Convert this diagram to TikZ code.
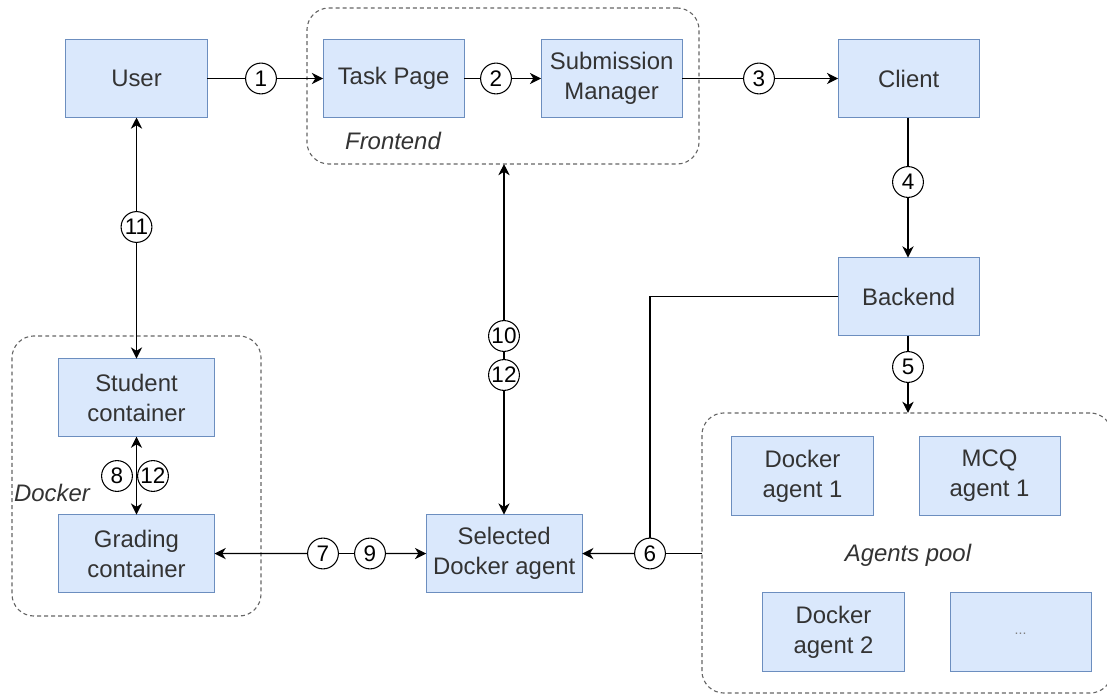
\documentclass[tikz,border=0pt]{standalone}
\usepackage{fontspec}
\setmainfont{Liberation Sans}
\usepackage{xcolor}
\usepackage{tikz}
\usetikzlibrary{arrows.meta, positioning, calc}

\definecolor{boxfill}{HTML}{DAE8FC}
\definecolor{boxline}{HTML}{6C8EBF}
\definecolor{grpline}{HTML}{666666}

\begin{document}
\begin{tikzpicture}[
        x=0.025cm, y=-0.025cm,
        block/.style={draw=boxline, fill=boxfill, line width=0.7pt, rectangle, minimum width=3.525cm, minimum height=1.95cm, align=center, text=black!80, inner sep=1pt, outer sep=0pt},
        wide/.style={block, minimum width=3.9cm},
        num/.style={draw, circle, minimum size=0.77cm, inner sep=0pt, line width=0.75pt, font=\fontsize{16}{16}\selectfont},
        group/.style={draw=grpline, dash pattern=on 2.8pt off 2.2pt, rounded corners=0.55cm, line width=0.8pt, rectangle, outer sep=0pt},
        grouplabel/.style={font=\fontsize{17}{20}\selectfont\itshape, text=black!80},
        conn/.style={line width=0.9pt},
        >={Stealth[length=8pt, width=8pt, inset=2.5pt]},
        font=\fontsize{17}{21.3}\selectfont,
    ]
        \useasboundingbox (0,0) rectangle (1107,695);

        \node[group, minimum width=9.8cm, minimum height=3.9cm]   (frontend) at (503,86)    {};
        \node[group, minimum width=6.225cm, minimum height=7cm]   (docker)   at (136.5,476) {};
        \node[group, minimum width=10.25cm, minimum height=7cm]   (pool)     at (907,553)   {};

        \node[block] (user) at (136.5,78.5)           {User};
        \node[block, right=2.9cm of user]    (task)   {Task Page};
        \node[block, right=1.925cm of task]  (sub)    {Submission\\Manager};
        \node[block, right=3.9cm of sub]     (client) {Client};
        \node[block, below=3.5cm of client]  (backend){Backend};
        \node[wide,  below=6.025cm of user]  (student){Student\\container};
        \node[wide,  below=1.95cm of student](grading){Grading\\container};
        \node[wide,  right=5.29cm of grading](sel)    {Selected\\Docker agent};

        \node[block] (da1) at (802.5,476)             {Docker\\agent 1};
        \node[block, right=1.15cm of da1]    (mcq)    {MCQ\\agent 1};
        \node[block] (da2) at (833.5,632)             {Docker\\agent 2};
        \node[block, right=1.15cm of da2]    (more)   {\fontsize{10}{10}\selectfont\color{black!50}\raisebox{-4pt}{...}};

        \node[grouplabel] (frontlbl)  at (393,141) {Frontend};
        \node[grouplabel] (dockerlbl) at (52,493)  {Docker};
        \node[grouplabel] (poollbl)   at (908,555) {Agents pool};

        \node[num] (c1)  at (261,78.5)   {1};
        \node[num] (c2)  at (496,78.5)   {2};
        \node[num] (c3)  at (759,78.5)   {3};
        \node[num] (c4)  at (908,182)    {4};
        \node[num] (c5)  at (908,367)    {5};
        \node[num] (c6)  at (650,553.5)  {6};
        \node[num] (c7)  at (323,553.5)  {7};
        \node[num] (c9)  at (370,553.5)  {9};
        \node[num] (c8)  at (117,476)    {8};
        \node[num] (c12a) at (153,476)   {12};
        \node[num] (c10) at (504,336)    {10};
        \node[num] (c12b) at (504,375)   {12};
        \node[num] (c11) at (136.5,227)  {11};

        \draw[conn]      (user) -- (c1);
        \draw[conn, ->]  (c1) -- (task);
        \draw[conn]      (task) -- (c2);
        \draw[conn, ->]  (c2) -- (sub);
        \draw[conn]      (sub) -- (c3);
        \draw[conn, ->]  (c3) -- (client);
        \draw[conn]      (c4 |- client.south) -- (c4);
        \draw[conn, ->]  (c4) -- (c4 |- backend.north);
        \draw[conn]      (c5 |- backend.south) -- (c5);
        \draw[conn, ->]  (c5) -- (c5 |- pool.north);
        \draw[conn]      (backend.west) -| (c6);
        \draw[conn]      (pool.west |- c6) -- (c6);
        \draw[conn, ->]  (c6) -- (sel);
        \draw[conn, <-]  (grading) -- (c7);
        \draw[conn]      (c7) -- (c9);
        \draw[conn, ->]  (c9) -- (sel);
        \draw[conn, ->]  (c12b) -- (c12b |- sel.north);
        \draw[conn]      (c10) -- (c12b);
        \draw[conn, ->]  (c10) -- (c10 |- frontend.south);
        \draw[conn, ->]  (c11) -- (user);
        \draw[conn, ->]  (c11) -- (student);
        \draw[conn, <->] (student) -- (grading);
    \end{tikzpicture}
\end{document}
